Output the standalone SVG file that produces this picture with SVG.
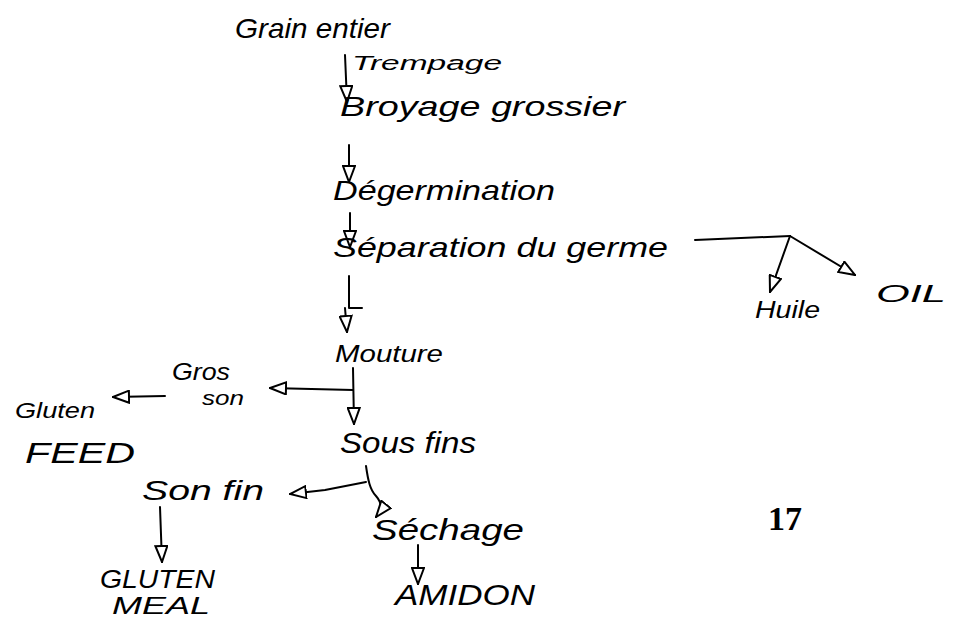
<svg xmlns="http://www.w3.org/2000/svg" width="959" height="621" viewBox="0 0 959 621">
<style>
.t{font-family:"Liberation Sans","DejaVu Sans",sans-serif;font-style:italic;fill:#000}
.c{fill:none;stroke:#000;stroke-width:2;stroke-linecap:round;stroke-linejoin:round}
</style>
<defs>
<marker id="ah" viewBox="0 0 18 14" refX="17" refY="7" markerWidth="18" markerHeight="14" markerUnits="userSpaceOnUse" orient="auto">
<path d="M1,1 L17,7 L1,13 Z" fill="#fff" stroke="#000" stroke-width="2"/>
</marker>
</defs>
<rect width="959" height="621" fill="#fff"/>
<g id="connectors">
<path class="c" d="M345,55 L347,102" marker-end="url(#ah)"/>
<path class="c" d="M349,145 L349,182" marker-end="url(#ah)"/>
<path class="c" d="M350,213 L350,247" marker-end="url(#ah)"/>
<path class="c" d="M349,276 L349,308 L362,308"/>
<path class="c" d="M345,308 L347,332" marker-end="url(#ah)"/>
<path class="c" d="M695,240 L790,236"/>
<path class="c" d="M790,236 L770,292" marker-end="url(#ah)"/>
<path class="c" d="M790,236 L855,275" marker-end="url(#ah)"/>
<path class="c" d="M353,368 L354,424" marker-end="url(#ah)"/>
<path class="c" d="M353,390 L270,388" marker-end="url(#ah)"/>
<path class="c" d="M165,396 L113,397" marker-end="url(#ah)"/>
<path class="c" d="M366,466 C368,480 370,490 376,496 C384,505 380,512 376,517" marker-end="url(#ah)"/>
<path class="c" d="M366,482 L325,490 L290,494" marker-end="url(#ah)"/>
<path class="c" d="M160,507 L162,562" marker-end="url(#ah)"/>
<path class="c" d="M418,545 L418,584" marker-end="url(#ah)"/>
</g>
<g id="grain"><text class="t" x="235" y="38" font-size="28" textLength="155" lengthAdjust="spacingAndGlyphs">Grain entier</text></g>
<g id="trempage"><text class="t" x="352" y="70" font-size="20" textLength="150" lengthAdjust="spacingAndGlyphs">Trempage</text></g>
<g id="broyage"><text class="t" x="340" y="116" font-size="28" textLength="285" lengthAdjust="spacingAndGlyphs">Broyage grossier</text></g>
<g id="degermination"><text class="t" x="333" y="200" font-size="28" textLength="222" lengthAdjust="spacingAndGlyphs">Dégermination</text></g>
<g id="separation"><text class="t" x="333" y="257" font-size="28" textLength="335" lengthAdjust="spacingAndGlyphs">Séparation du germe</text></g>
<g id="huile"><text class="t" x="755" y="318" font-size="24" textLength="65" lengthAdjust="spacingAndGlyphs">Huile</text></g>
<g id="oil"><text class="t" x="876" y="302" font-size="24" textLength="70" lengthAdjust="spacingAndGlyphs">OIL</text></g>
<g id="mouture"><text class="t" x="335" y="362" font-size="24" textLength="108" lengthAdjust="spacingAndGlyphs">Mouture</text></g>
<g id="gros-son"><text class="t" x="172" y="380" font-size="24" textLength="58" lengthAdjust="spacingAndGlyphs">Gros</text><text class="t" x="202" y="405" font-size="20" textLength="42" lengthAdjust="spacingAndGlyphs">son</text></g>
<g id="gluten-feed"><text class="t" x="15" y="418" font-size="22" textLength="80" lengthAdjust="spacingAndGlyphs">Gluten</text><text class="t" x="25" y="463" font-size="30" textLength="110" lengthAdjust="spacingAndGlyphs">FEED</text></g>
<g id="sous-fins"><text class="t" x="340" y="453" font-size="30" textLength="136" lengthAdjust="spacingAndGlyphs">Sous fins</text></g>
<g id="son-fin"><text class="t" x="142" y="500" font-size="28" textLength="122" lengthAdjust="spacingAndGlyphs">Son fin</text></g>
<g id="gluten-meal"><text class="t" x="100" y="588" font-size="26" textLength="115" lengthAdjust="spacingAndGlyphs">GLUTEN</text><text class="t" x="112" y="614" font-size="24" textLength="98" lengthAdjust="spacingAndGlyphs">MEAL</text></g>
<g id="sechage"><text class="t" x="372" y="540" font-size="30" textLength="152" lengthAdjust="spacingAndGlyphs">Séchage</text></g>
<g id="amidon"><text class="t" x="395" y="605" font-size="30" textLength="140" lengthAdjust="spacingAndGlyphs">AMIDON</text></g>
<g id="page"><text x="768" y="530" font-family="Liberation Serif,serif" font-size="34" font-weight="bold">17</text></g>
</svg>
